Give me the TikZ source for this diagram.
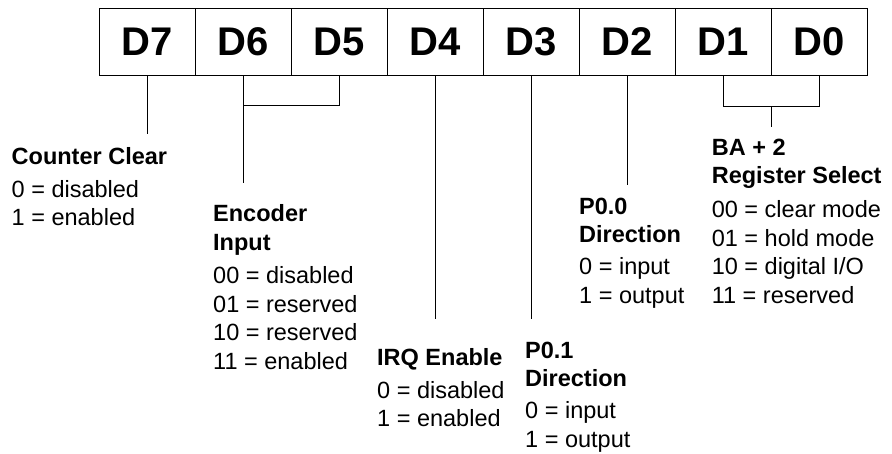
\documentclass[tikz,border=0pt]{standalone}
\usepackage{fontspec}
\setmainfont{Liberation Sans}
\begin{document}
\begin{tikzpicture}[x=1pt,y=-1pt,
  cell/.style={draw,line width=0.8pt,minimum width=96pt,minimum height=66.7pt,inner sep=0,
    font=\fontsize{40}{40}\selectfont\bfseries},
  info/.style={anchor=base west,align=left,inner sep=0,font=\fontsize{23.5}{28.5}\selectfont},
  wire/.style={line width=0.8pt}]
\useasboundingbox (0,0) rectangle (892,454);
% register bits
\node[cell] (d7) at (147.5,41.7) {D7};
\node[cell] (d6) at (243.5,41.7) {D6};
\node[cell] (d5) at (339.5,41.7) {D5};
\node[cell] (d4) at (435.5,41.7) {D4};
\node[cell] (d3) at (531.5,41.7) {D3};
\node[cell] (d2) at (627.5,41.7) {D2};
\node[cell] (d1) at (723.5,41.7) {D1};
\node[cell] (d0) at (819.5,41.7) {D0};
% line ends
\coordinate (cctop) at (147.5,134);
\coordinate (encjoin) at (243.5,105.3);
\coordinate (enctop) at (243.5,183.3);
\coordinate (irqtop) at (435.5,319);
\coordinate (dironetop) at (531.5,319);
\coordinate (dirzerotop) at (627.5,185);
\coordinate (bajoin) at (771.5,106.7);
\coordinate (batop) at (771.5,126.7);
\draw[wire] (d7.south) -- (cctop);
\draw[wire] (d6.south) -- (enctop);
\draw[wire] (d5.south) |- (encjoin);
\draw[wire] (d4.south) -- (irqtop);
\draw[wire] (d3.south) -- (dironetop);
\draw[wire] (d2.south) -- (dirzerotop);
\draw[wire] (d1.south) |- (bajoin) -| (d0.south);
\draw[wire] (bajoin) -- (batop);
% bit descriptions (placed at the baseline of their last line)
\node[info] (cc) at (11.5,226) {\textbf{Counter Clear}\\[4pt]0 = disabled\\1 = enabled};
\node[info] (enc) at (213,369.3) {\textbf{Encoder}\\\textbf{Input}\\[5pt]00 = disabled\\01 = reserved\\10 = reserved\\11 = enabled};
\node[info] (irq) at (377,426.7) {\textbf{IRQ Enable}\\[4.5pt]0 = disabled\\1 = enabled};
\node[info] (dirone) at (525,447.3) {\textbf{P0.1}\\\textbf{Direction}\\[3.5pt]0 = input\\1 = output};
\node[info] (dirzero) at (579,303.3) {\textbf{P0.0}\\\textbf{Direction}\\[3.5pt]0 = input\\1 = output};
\node[info] (ba) at (711.6,303.3) {\textbf{BA + 2}\\\textbf{Register Select}\\[5.5pt]00 = clear mode\\01 = hold mode\\10 = digital I/O\\11 = reserved};
\end{tikzpicture}
\end{document}
